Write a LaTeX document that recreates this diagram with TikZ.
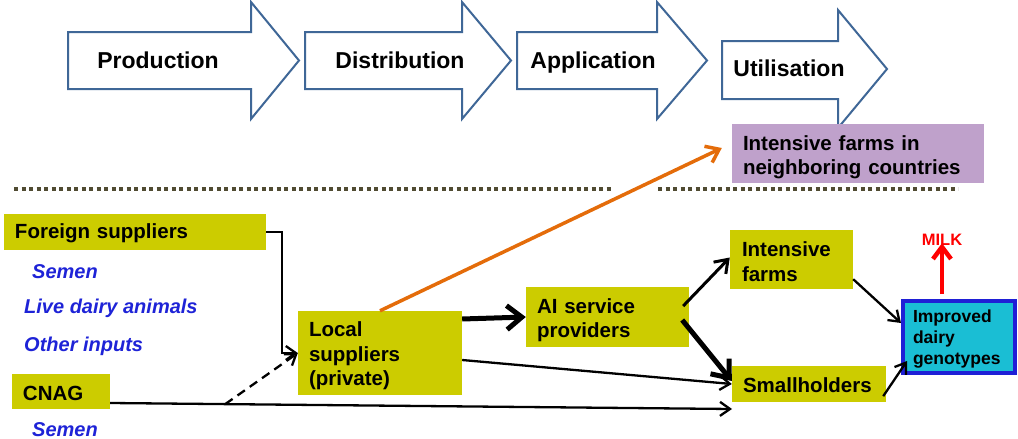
\documentclass[tikz,border=0pt]{standalone}
\usepackage{fontspec}
\setmainfont{Liberation Sans}
\usetikzlibrary{arrows.meta,calc}
\definecolor{boxolive}{RGB}{204,204,0}
\definecolor{boxpurple}{RGB}{191,161,203}
\definecolor{boxcyan}{RGB}{26,190,212}
\definecolor{boxblue}{RGB}{31,31,214}
\definecolor{itemblue}{RGB}{30,35,215}
\definecolor{arrorange}{RGB}{228,108,10}
\definecolor{phaseblue}{RGB}{63,103,151}
\definecolor{dotcol}{RGB}{80,75,50}
\newcommand{\toppad}[1]{\rule{0pt}{#1}}
\begin{document}
\begin{tikzpicture}[x=1pt,y=-1pt,
  phasearrow/.style={draw=phaseblue, line width=2pt, fill=white, line join=miter},
  phasetext/.style={font=\fontsize{23}{27}\selectfont\bfseries, inner sep=0pt, anchor=base},
  box/.style={fill=boxolive, inner sep=0pt, align=left, font=\fontsize{20.5}{24.5}\selectfont\bfseries},
  item/.style={font=\fontsize{20}{24}\selectfont\bfseries\itshape, text=itemblue, inner sep=0pt, anchor=base west},
  thinarr/.style={line width=2.3pt, -{Straight Barb[length=10pt,width=14pt]}},
  medarr/.style={line width=3pt, -{Straight Barb[length=12pt,width=17pt]}},
  thickarr/.style={line width=5pt, -{Straight Barb[length=15pt,width=24pt]}},
  dasharr/.style={line width=2.3pt, dash pattern=on 9pt off 6pt, -{Straight Barb[length=10pt,width=14pt]}},
  orangearr/.style={draw=arrorange, line width=3.5pt, -{Straight Barb[length=12pt,width=18pt]}},
  milkarr/.style={draw=red, line width=4.5pt, -{Straight Barb[length=12pt,width=18pt]}},
  dotline/.style={draw=dotcol, line width=3.5pt, dash pattern=on 4pt off 3.5pt}
]
\useasboundingbox (0,0) rectangle (1018,439);

% phase arrows
\draw[phasearrow] (68,32) -- (251,32) -- (251,2) -- (299,60.5) -- (251,119) -- (251,89) -- (68,89) -- cycle;
\draw[phasearrow] (305,32) -- (462,32) -- (462,2) -- (511,60.5) -- (462,119) -- (462,89) -- (305,89) -- cycle;
\draw[phasearrow] (517,32) -- (657,32) -- (657,2) -- (707,60.5) -- (657,119) -- (657,89) -- (517,89) -- cycle;
\draw[phasearrow] (722,41) -- (838,41) -- (838,10) -- (887,69) -- (838,128) -- (838,99) -- (722,99) -- cycle;
\node[phasetext] (tprod) at (158,68) {Production};
\node[phasetext] (tdist) at (400,68) {Distribution};
\node[phasetext] (tappl) at (593,68) {Application};
\node[phasetext] (tutil) at (789,76) {Utilisation};

% dotted separators
\draw[dotline] (14,189) -- (612,189);
\draw[dotline] (658,189) -- (958,189);

% boxes
\node[box, fill=boxpurple, minimum width=252pt, minimum height=59pt, text width=230pt] (pf) at (858,153.5) {\toppad{22.5pt}Intensive farms in\\neighboring countries};
\node[box, minimum width=262pt, minimum height=36pt, text width=240pt] (fs) at (135,232) {\toppad{18pt}Foreign suppliers};
\node[box, minimum width=98pt, minimum height=35pt, text width=76pt] (cnag) at (61,391.5) {\toppad{18pt}CNAG};
\node[box, minimum width=164pt, minimum height=84pt, text width=142pt] (ls) at (380,353) {\toppad{21pt}Local\\suppliers\\(private)};
\node[box, minimum width=163pt, minimum height=60pt, text width=141pt] (ai) at (607.5,317) {\toppad{21.5pt}AI service\\providers};
\node[box, minimum width=123pt, minimum height=59pt, text width=99pt] (if) at (791.5,259.5) {\toppad{19pt}Intensive\\farms};
\node[box, minimum width=154pt, minimum height=36pt, text width=132pt] (sm) at (809,384) {\toppad{16.5pt}Smallholders};
\node[box, fill=boxcyan, draw=boxblue, line width=4pt, minimum width=112pt, minimum height=72pt, text width=92pt, font=\fontsize{17.5}{21}\selectfont\bfseries] (im) at (959,337) {\toppad{17.5pt}Improved\\dairy\\genotypes};
\node[font=\fontsize{16.5}{20}\selectfont\bfseries, text=red, inner sep=0pt, anchor=base] (milk) at (942,245) {MILK};

% items
\node[item] (sem1) at (32,278) {Semen};
\node[item] (live) at (24,313) {Live dairy animals};
\node[item] (other) at (24,351) {Other inputs};
\node[item] (sem2) at (32,436) {Semen};

% connectors
\draw[thinarr] (fs.east) -- ++(16,0) |- (ls.west);
\coordinate (cstart) at ([yshift=-11.5pt]cnag.east);
\coordinate (cnagend) at (732,409);
\draw[thinarr] (cstart) -- (cnagend);
\coordinate (dstart) at ($(cstart)!0.185!(cnagend)$);
\draw[dasharr] (dstart) -- (ls.west);
\draw[orangearr] (ls.north) -- ([xshift=-10pt,yshift=5.5pt]pf.west);
\draw[thickarr] ([yshift=34pt]ls.east) -- (ai.west);
\draw[thinarr] ([yshift=-7pt]ls.east) -- (sm.west);
\draw[medarr] ([xshift=-6pt,yshift=11pt]ai.east) -- ([yshift=2pt]if.west);
\draw[thickarr] ([xshift=-7pt,yshift=-3pt]ai.east) -- ([yshift=3pt]sm.west);
\draw[thinarr] ([yshift=10pt]if.south east) -- ([yshift=14pt]im.west);
\draw[thinarr] ([xshift=-3pt,yshift=6pt]sm.south east) -- ([xshift=6pt,yshift=14pt]im.south west);
\draw[milkarr] ([xshift=-17pt,yshift=5pt]im.north) -- ([yshift=2pt]milk.south);
\end{tikzpicture}
\end{document}
